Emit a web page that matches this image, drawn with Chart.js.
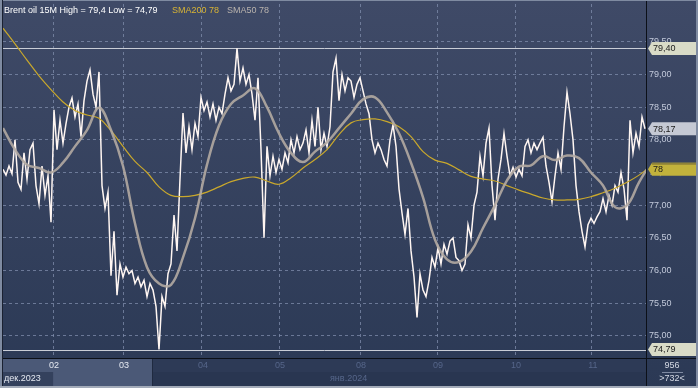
<!DOCTYPE html>
<html lang="ru">
<head>
<meta charset="UTF-8">
<title>Brent oil 15M</title>
<script src="https://cdn.jsdelivr.net/npm/chart.js@4"></script>
<style>
    html, body { margin: 0; padding: 0; background: #2e3b57; }
    #wrap { width: 698px; height: 388px; }
</style>
</head>
<body>
<div id="wrap"><canvas id="chart" width="698" height="388"></canvas></div>
<script>
// 15M closes, one sample every ~3.5 bars
const price = [
    77.55, 77.46, 77.60, 77.48, 78.00, 77.35, 77.24, 77.80, 77.40, 77.85,
    77.95, 77.30, 77.02, 77.60, 77.15, 77.45, 76.74, 78.46, 77.85, 78.30,
    77.95, 78.25, 78.50, 78.64, 78.35, 78.55, 78.05, 78.60, 78.90, 79.07,
    78.70, 78.50, 79.04, 77.30, 76.95, 77.20, 75.92, 76.60, 75.62, 76.10,
    75.90, 76.05, 75.95, 76.00, 75.80, 75.90, 75.75, 75.85, 75.60, 75.80,
    75.70, 75.45, 74.79, 75.60, 75.45, 75.95, 76.10, 76.85, 76.30, 77.40,
    78.41, 77.80, 78.20, 77.85, 78.25, 78.05, 78.65, 78.45, 78.58, 78.35,
    78.55, 78.30, 78.50, 78.40, 78.70, 78.95, 78.75, 78.85, 79.40, 78.90,
    79.10, 78.85, 79.00, 78.70, 78.30, 78.95, 77.85, 76.50, 77.90, 77.45,
    77.75, 77.50, 77.70, 77.55, 77.80, 77.65, 78.00, 77.80, 78.05, 77.85,
    77.95, 78.15, 77.80, 78.30, 77.90, 78.50, 77.85, 78.10, 77.90, 78.20,
    79.04, 79.25, 78.60, 79.00, 78.75, 78.95, 78.90, 78.65, 78.85, 78.95,
    78.75, 78.55, 78.40, 78.00, 77.80, 77.95, 77.85, 77.70, 77.60, 78.00,
    78.23, 77.90, 77.25, 76.88, 76.55, 76.95, 76.30, 75.90, 75.28, 75.95,
    75.70, 75.60, 75.85, 76.20, 76.05, 76.35, 76.10, 76.40, 76.25, 76.45,
    76.50, 76.20, 76.15, 76.00, 76.10, 76.70, 76.50, 77.00, 77.20, 77.75,
    77.45, 77.95, 78.18, 77.30, 76.77, 77.40, 77.70, 78.10, 77.75, 77.45,
    77.58, 77.43, 77.55, 77.45, 77.90, 78.00, 77.80, 77.95, 77.85, 77.95,
    78.04, 77.60, 77.35, 77.05, 77.45, 77.80, 77.55, 78.20, 78.73, 78.40,
    78.00, 77.30, 76.90, 76.60, 76.36, 76.70, 76.80, 76.72, 76.82, 76.90,
    77.10, 76.90, 77.15, 77.00, 77.30, 77.20, 77.50, 77.25, 76.77, 78.30,
    77.80, 78.10, 77.90, 78.35, 78.17
];

// moving averages, one value every 4 price samples
const smaStep = 4;
const sma200 = [
    79.71, 79.47, 79.22, 78.98, 78.77, 78.58, 78.45, 78.38, 78.33, 78.14,
    77.90, 77.67, 77.50, 77.28, 77.15, 77.13, 77.15, 77.20, 77.28, 77.36,
    77.41, 77.43, 77.37, 77.32, 77.42, 77.57, 77.70, 77.85, 78.08, 78.26,
    78.31, 78.32, 78.28, 78.20, 78.05, 77.82, 77.69, 77.64, 77.54, 77.44,
    77.40, 77.37, 77.30, 77.23, 77.17, 77.11, 77.08, 77.08, 77.09, 77.13,
    77.19, 77.26, 77.35, 77.46, 77.60
];
const sma50 = [
    78.18, 77.85, 77.62, 77.57, 77.50, 77.65, 77.90, 78.15, 78.49, 78.15,
    77.60, 76.72, 76.05, 75.80, 75.78, 76.20, 76.80, 77.62, 78.22, 78.55,
    78.68, 78.79, 78.50, 78.10, 77.80, 77.66, 77.82, 77.96, 78.18, 78.40,
    78.62, 78.65, 78.42, 78.10, 77.65, 77.12, 76.47, 76.17, 76.13, 76.29,
    76.65, 77.00, 77.38, 77.59, 77.61, 77.75, 77.69, 77.76, 77.72, 77.50,
    77.30, 76.97, 77.00, 77.35, 77.65
];
const sma200Last = 77.55;
const sma50Last = 77.57;

// trading days (position in price samples)
const dayLabels = ['02', '03', '04', '05', '08', '09', '10', '11'];
const dayPos = [16.7, 40, 66.3, 92, 119, 144.7, 170.7, 196.3];
const monthLabels = ['дек.2023', 'янв.2024'];

const yTicks = [75, 75.5, 76, 76.5, 77, 77.5, 78, 78.5, 79, 79.5];
const highVal = 79.40;
const lowVal = 74.79;
const lastVal = 78.17;
const barsTotal = '956';
const barsShown = '>732<';

const FONT = '9px "Liberation Sans", Arial, sans-serif';
const fmt = v => v.toFixed(2).replace('.', ',');

function tag(ctx, y, text, bg, fg, top) {
    const x = 647, h = 13;
    ctx.beginPath();
    ctx.moveTo(x + 1, y);
    ctx.lineTo(x + 5, y - h / 2);
    ctx.lineTo(696, y - h / 2);
    ctx.lineTo(696, y + h / 2);
    ctx.lineTo(x + 5, y + h / 2);
    ctx.closePath();
    ctx.fillStyle = bg;
    ctx.fill();
    if (top) {
        ctx.fillStyle = top;
        ctx.fillRect(x + 5, y - h / 2, 696 - x - 5, 2);
    }
    ctx.fillStyle = fg;
    ctx.textAlign = 'left';
    ctx.textBaseline = 'middle';
    ctx.fillText(text, x + 6, y + 0.5);
}

const decor = {
    id: 'decor',
    beforeDraw(chart) {
        const { ctx, chartArea: a, width: W, height: H } = chart;
        const g = ctx.createLinearGradient(0, 0, 0, H);
        g.addColorStop(0, '#3f4a67');
        g.addColorStop(1, '#2b3955');
        ctx.save();
        ctx.fillStyle = g;
        ctx.fillRect(0, 0, W, H);

        // navigator band under the plot
        const xs = chart.scales.x;
        const navEnd = 152;
        ctx.fillStyle = '#2d3a56';
        ctx.fillRect(a.left, a.bottom, a.right - a.left, H - a.bottom);
        ctx.fillStyle = '#293651';
        ctx.fillRect(a.left, a.bottom + 14, a.right - a.left, H - a.bottom - 14);
        ctx.fillStyle = '#4b5977';
        ctx.fillRect(a.left, a.bottom, navEnd - a.left, H - a.bottom);
        ctx.fillStyle = '#34415d';
        ctx.fillRect(a.left, a.bottom + 14, xs.getPixelForValue(dayPos[0]) - a.left, H - a.bottom - 14);
        ctx.fillStyle = '#1f2a40';
        ctx.fillRect(navEnd, a.bottom, 1, H - a.bottom);
        ctx.restore();
    },
    beforeDatasetsDraw(chart) {
        const { ctx, chartArea: a } = chart;
        const ys = chart.scales.y;
        ctx.save();
        ctx.strokeStyle = '#c9cdd6';
        ctx.lineWidth = 1;
        [highVal, lowVal].forEach(v => {
            const y = Math.round(ys.getPixelForValue(v)) + 0.5;
            ctx.beginPath();
            ctx.moveTo(a.left, y);
            ctx.lineTo(a.right, y);
            ctx.stroke();
        });
        ctx.restore();
    },
    afterDraw(chart) {
        const { ctx, chartArea: a, width: W, height: H } = chart;
        const xs = chart.scales.x, ys = chart.scales.y;
        ctx.save();
        ctx.font = FONT;

        // axis lines
        ctx.fillStyle = '#0c1018';
        ctx.fillRect(a.right, 0, 1, H);
        ctx.fillRect(a.left, a.bottom, W - a.left, 1);

        // day labels
        ctx.textAlign = 'center';
        ctx.textBaseline = 'middle';
        dayLabels.forEach((d, i) => {
            const x = xs.getPixelForValue(dayPos[i]);
            ctx.fillStyle = x < 152 ? '#e6eaf2' : '#56668a';
            ctx.fillText(d, x + 1, a.bottom + 8);
        });
        ctx.textAlign = 'left';
        ctx.fillStyle = '#e6eaf2';
        ctx.fillText(monthLabels[0], a.left + 1, a.bottom + 21);
        ctx.fillStyle = '#56668a';
        ctx.fillText(monthLabels[1], 330, a.bottom + 21);

        // bar counter
        ctx.textAlign = 'center';
        ctx.fillStyle = '#d4d9e4';
        ctx.fillText(barsTotal, 672, a.bottom + 8);
        ctx.fillText(barsShown, 672, a.bottom + 21);
        ctx.fillStyle = '#7f8aa2';
        ctx.fillRect(662, a.bottom + 14, 21, 1);

        // price tags
        tag(ctx, ys.getPixelForValue(highVal), fmt(highVal), '#d9dbc7', '#1b1b1b');
        tag(ctx, ys.getPixelForValue(lastVal), fmt(lastVal), '#c5c9d4', '#1b1b1b');
        tag(ctx, ys.getPixelForValue(sma200Last), Math.round(sma200Last).toString(), '#c2b23c', '#1b1b1b', '#8e8238');
        tag(ctx, ys.getPixelForValue(lowVal), fmt(lowVal), '#d9dbc7', '#1b1b1b');

        // title line
        ctx.textAlign = 'left';
        ctx.textBaseline = 'alphabetic';
        ctx.fillStyle = '#ffffff';
        ctx.fillText('Brent oil 15M High = ' + String(highVal).replace('.', ',') +
            ' Low = ' + String(lowVal).replace('.', ','), 4, 13);
        ctx.fillStyle = '#d8b434';
        ctx.fillText('SMA200 ' + Math.round(sma200Last), 172, 13);
        ctx.fillStyle = '#b9b3ad';
        ctx.fillText('SMA50 ' + Math.round(sma50Last), 227, 13);

        // frame
        ctx.fillStyle = '#7f8ba1';
        ctx.fillRect(0, 0, 2, H);
        ctx.fillRect(W - 2, 0, 2, H);
        ctx.fillRect(0, 0, W, 1);
        ctx.fillStyle = '#a3abb9';
        ctx.fillRect(0, H - 2, W, 2);
        ctx.fillStyle = '#1a2131';
        ctx.fillRect(2, 0, 1, H - 2);
        ctx.restore();
    }
};

const gridStyle = {
    color: 'rgba(128, 142, 172, 0.75)',
    lineWidth: 1,
    drawTicks: false
};

new Chart(document.getElementById('chart'), {
    type: 'line',
    data: {
        datasets: [
            {
                label: 'SMA50',
                data: sma50.map((v, k) => ({ x: k * smaStep, y: v })),
                borderColor: 'rgba(178, 170, 162, 0.9)',
                borderWidth: 2.5,
                pointRadius: 0,
                tension: 0.4,
                order: 1
            },
            {
                label: 'SMA200',
                data: sma200.map((v, k) => ({ x: k * smaStep, y: v })),
                borderColor: '#c9a82c',
                borderWidth: 1.2,
                pointRadius: 0,
                tension: 0.4,
                order: 2
            },
            {
                label: 'Brent oil',
                data: price.map((v, i) => ({ x: i, y: v })),
                borderColor: '#fff6f2',
                borderWidth: 1.5,
                pointRadius: 0,
                tension: 0,
                order: 3
            }
        ]
    },
    options: {
        responsive: false,
        animation: false,
        devicePixelRatio: 1,
        layout: { padding: { left: 3, top: 4, right: 0, bottom: 0 } },
        plugins: { legend: { display: false }, tooltip: { enabled: false } },
        scales: {
            x: {
                type: 'linear',
                min: 0,
                max: 214.33,
                afterBuildTicks: s => { s.ticks = dayPos.map(v => ({ value: v })); },
                afterFit: s => { s.height = 30; s.paddingLeft = 0; s.paddingRight = 0; },
                ticks: { display: false },
                grid: gridStyle,
                border: { display: false, dash: [3, 3] }
            },
            y: {
                position: 'right',
                min: 74.66,
                max: 80.08,
                afterBuildTicks: s => { s.ticks = yTicks.map(v => ({ value: v })); },
                afterFit: s => { s.width = 52; s.paddingTop = 0; s.paddingBottom = 0; },
                ticks: {
                    color: '#c3cadb',
                    font: { family: '"Liberation Sans", Arial, sans-serif', size: 9 },
                    padding: 3,
                    callback: v => fmt(v)
                },
                grid: gridStyle,
                border: { display: false, dash: [3, 3] }
            }
        }
    },
    plugins: [decor]
});
</script>
</body>
</html>
